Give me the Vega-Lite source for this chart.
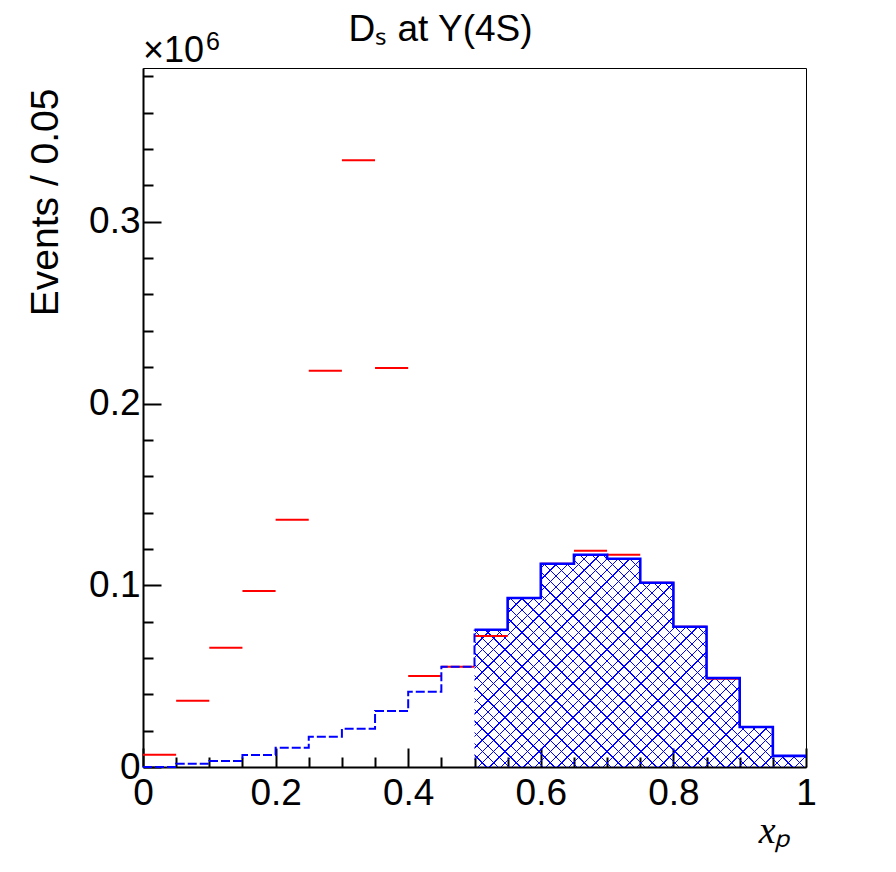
{
  "$schema": "https://vega.github.io/schema/vega-lite/v6.json",
  "autosize": {"type": "none"},
  "width": 663,
  "height": 699,
  "padding": {"left": 143, "top": 68, "right": 90, "bottom": 105},
  "background": "white",
  "config": {
    "view": {"stroke": "black", "strokeWidth": 1},
    "font": "Liberation Sans"
  },
  "title": {
    "text": "Dₛ at Y(4S)",
    "font": "Liberation Sans",
    "fontSize": 37,
    "fontWeight": "normal",
    "color": "black",
    "frame": "group",
    "anchor": "middle",
    "offset": -19,
    "dx": -34
  },
  "datasets": {
    "red": [
      {"lo": 0.00, "hi": 0.05, "n": 0.0068},
      {"lo": 0.05, "hi": 0.10, "n": 0.0365},
      {"lo": 0.10, "hi": 0.15, "n": 0.0656},
      {"lo": 0.15, "hi": 0.20, "n": 0.0968},
      {"lo": 0.20, "hi": 0.25, "n": 0.1361},
      {"lo": 0.25, "hi": 0.30, "n": 0.2180},
      {"lo": 0.30, "hi": 0.35, "n": 0.3339},
      {"lo": 0.35, "hi": 0.40, "n": 0.2195},
      {"lo": 0.40, "hi": 0.45, "n": 0.0501},
      {"lo": 0.45, "hi": 0.50, "n": 0.0552},
      {"lo": 0.50, "hi": 0.55, "n": 0.0721},
      {"lo": 0.55, "hi": 0.60, "n": 0.0930},
      {"lo": 0.60, "hi": 0.65, "n": 0.1118},
      {"lo": 0.65, "hi": 0.70, "n": 0.1190},
      {"lo": 0.70, "hi": 0.75, "n": 0.1168},
      {"lo": 0.75, "hi": 0.80, "n": 0.1014},
      {"lo": 0.80, "hi": 0.85, "n": 0.0772},
      {"lo": 0.85, "hi": 0.90, "n": 0.0486},
      {"lo": 0.90, "hi": 0.95, "n": 0.0220},
      {"lo": 0.95, "hi": 1.00, "n": 0.0061}
    ],
    "blueDash": [
      {"x": 0.00, "n": 0.0},
      {"x": 0.05, "n": 0.0018},
      {"x": 0.10, "n": 0.0033},
      {"x": 0.15, "n": 0.0066},
      {"x": 0.20, "n": 0.0106},
      {"x": 0.25, "n": 0.0166},
      {"x": 0.30, "n": 0.0211},
      {"x": 0.35, "n": 0.0308},
      {"x": 0.40, "n": 0.0414},
      {"x": 0.45, "n": 0.0552},
      {"x": 0.50, "n": 0.0755}
    ],
    "blueSolid": [
      {"x": 0.50, "n": 0.0755},
      {"x": 0.55, "n": 0.0930},
      {"x": 0.60, "n": 0.1118},
      {"x": 0.65, "n": 0.1168},
      {"x": 0.70, "n": 0.1146},
      {"x": 0.75, "n": 0.1014},
      {"x": 0.80, "n": 0.0772},
      {"x": 0.85, "n": 0.0490},
      {"x": 0.90, "n": 0.0220},
      {"x": 0.95, "n": 0.0061},
      {"x": 1.00, "n": 0.0061}
    ],
    "label": [{"t": "×10", "e": "6", "x": 0, "y": 0.3846}]
  },
  "layer": [
    {
      "data": {"name": "blueSolid"},
      "mark": {"type": "area", "interpolate": "step-after", "fill": {"gradient": "linear", "x1": 0, "y1": 0, "x2": 1.1633, "y2": 0.745, "stops": [
        {"offset":0,"color":"rgba(0,0,255,0)"},{"offset":0,"color":"#0000ff"},{"offset":0.0024,"color":"#0000ff"},{"offset":0.0024,"color":"rgba(0,0,255,0)"},
        {"offset":0.0208,"color":"rgba(0,0,255,0)"},{"offset":0.0208,"color":"#0000ff"},{"offset":0.0232,"color":"#0000ff"},{"offset":0.0232,"color":"rgba(0,0,255,0)"},
        {"offset":0.0417,"color":"rgba(0,0,255,0)"},{"offset":0.0417,"color":"#0000ff"},{"offset":0.0441,"color":"#0000ff"},{"offset":0.0441,"color":"rgba(0,0,255,0)"},
        {"offset":0.0625,"color":"rgba(0,0,255,0)"},{"offset":0.0625,"color":"#0000ff"},{"offset":0.0649,"color":"#0000ff"},{"offset":0.0649,"color":"rgba(0,0,255,0)"},
        {"offset":0.0833,"color":"rgba(0,0,255,0)"},{"offset":0.0833,"color":"#0000ff"},{"offset":0.0857,"color":"#0000ff"},{"offset":0.0857,"color":"rgba(0,0,255,0)"},
        {"offset":0.1042,"color":"rgba(0,0,255,0)"},{"offset":0.1042,"color":"#0000ff"},{"offset":0.1066,"color":"#0000ff"},{"offset":0.1066,"color":"rgba(0,0,255,0)"},
        {"offset":0.125,"color":"rgba(0,0,255,0)"},{"offset":0.125,"color":"#0000ff"},{"offset":0.1274,"color":"#0000ff"},{"offset":0.1274,"color":"rgba(0,0,255,0)"},
        {"offset":0.1458,"color":"rgba(0,0,255,0)"},{"offset":0.1458,"color":"#0000ff"},{"offset":0.1482,"color":"#0000ff"},{"offset":0.1482,"color":"rgba(0,0,255,0)"},
        {"offset":0.1667,"color":"rgba(0,0,255,0)"},{"offset":0.1667,"color":"#0000ff"},{"offset":0.1691,"color":"#0000ff"},{"offset":0.1691,"color":"rgba(0,0,255,0)"},
        {"offset":0.1875,"color":"rgba(0,0,255,0)"},{"offset":0.1875,"color":"#0000ff"},{"offset":0.1899,"color":"#0000ff"},{"offset":0.1899,"color":"rgba(0,0,255,0)"},
        {"offset":0.2083,"color":"rgba(0,0,255,0)"},{"offset":0.2083,"color":"#0000ff"},{"offset":0.2107,"color":"#0000ff"},{"offset":0.2107,"color":"rgba(0,0,255,0)"},
        {"offset":0.2292,"color":"rgba(0,0,255,0)"},{"offset":0.2292,"color":"#0000ff"},{"offset":0.2316,"color":"#0000ff"},{"offset":0.2316,"color":"rgba(0,0,255,0)"},
        {"offset":0.25,"color":"rgba(0,0,255,0)"},{"offset":0.25,"color":"#0000ff"},{"offset":0.2524,"color":"#0000ff"},{"offset":0.2524,"color":"rgba(0,0,255,0)"},
        {"offset":0.2708,"color":"rgba(0,0,255,0)"},{"offset":0.2708,"color":"#0000ff"},{"offset":0.2732,"color":"#0000ff"},{"offset":0.2732,"color":"rgba(0,0,255,0)"},
        {"offset":0.2917,"color":"rgba(0,0,255,0)"},{"offset":0.2917,"color":"#0000ff"},{"offset":0.2941,"color":"#0000ff"},{"offset":0.2941,"color":"rgba(0,0,255,0)"},
        {"offset":0.3125,"color":"rgba(0,0,255,0)"},{"offset":0.3125,"color":"#0000ff"},{"offset":0.3149,"color":"#0000ff"},{"offset":0.3149,"color":"rgba(0,0,255,0)"},
        {"offset":0.3333,"color":"rgba(0,0,255,0)"},{"offset":0.3333,"color":"#0000ff"},{"offset":0.3357,"color":"#0000ff"},{"offset":0.3357,"color":"rgba(0,0,255,0)"},
        {"offset":0.3542,"color":"rgba(0,0,255,0)"},{"offset":0.3542,"color":"#0000ff"},{"offset":0.3566,"color":"#0000ff"},{"offset":0.3566,"color":"rgba(0,0,255,0)"},
        {"offset":0.375,"color":"rgba(0,0,255,0)"},{"offset":0.375,"color":"#0000ff"},{"offset":0.3774,"color":"#0000ff"},{"offset":0.3774,"color":"rgba(0,0,255,0)"},
        {"offset":0.3958,"color":"rgba(0,0,255,0)"},{"offset":0.3958,"color":"#0000ff"},{"offset":0.3982,"color":"#0000ff"},{"offset":0.3982,"color":"rgba(0,0,255,0)"},
        {"offset":0.4167,"color":"rgba(0,0,255,0)"},{"offset":0.4167,"color":"#0000ff"},{"offset":0.4191,"color":"#0000ff"},{"offset":0.4191,"color":"rgba(0,0,255,0)"},
        {"offset":0.4375,"color":"rgba(0,0,255,0)"},{"offset":0.4375,"color":"#0000ff"},{"offset":0.4399,"color":"#0000ff"},{"offset":0.4399,"color":"rgba(0,0,255,0)"},
        {"offset":0.4583,"color":"rgba(0,0,255,0)"},{"offset":0.4583,"color":"#0000ff"},{"offset":0.4607,"color":"#0000ff"},{"offset":0.4607,"color":"rgba(0,0,255,0)"},
        {"offset":0.4792,"color":"rgba(0,0,255,0)"},{"offset":0.4792,"color":"#0000ff"},{"offset":0.4816,"color":"#0000ff"},{"offset":0.4816,"color":"rgba(0,0,255,0)"},
        {"offset":0.5,"color":"rgba(0,0,255,0)"},{"offset":0.5,"color":"#0000ff"},{"offset":0.5024,"color":"#0000ff"},{"offset":0.5024,"color":"rgba(0,0,255,0)"},
        {"offset":0.5208,"color":"rgba(0,0,255,0)"},{"offset":0.5208,"color":"#0000ff"},{"offset":0.5232,"color":"#0000ff"},{"offset":0.5232,"color":"rgba(0,0,255,0)"},
        {"offset":0.5417,"color":"rgba(0,0,255,0)"},{"offset":0.5417,"color":"#0000ff"},{"offset":0.5441,"color":"#0000ff"},{"offset":0.5441,"color":"rgba(0,0,255,0)"},
        {"offset":0.5625,"color":"rgba(0,0,255,0)"},{"offset":0.5625,"color":"#0000ff"},{"offset":0.5649,"color":"#0000ff"},{"offset":0.5649,"color":"rgba(0,0,255,0)"},
        {"offset":0.5833,"color":"rgba(0,0,255,0)"},{"offset":0.5833,"color":"#0000ff"},{"offset":0.5857,"color":"#0000ff"},{"offset":0.5857,"color":"rgba(0,0,255,0)"},
        {"offset":0.6042,"color":"rgba(0,0,255,0)"},{"offset":0.6042,"color":"#0000ff"},{"offset":0.6066,"color":"#0000ff"},{"offset":0.6066,"color":"rgba(0,0,255,0)"},
        {"offset":0.625,"color":"rgba(0,0,255,0)"},{"offset":0.625,"color":"#0000ff"},{"offset":0.6274,"color":"#0000ff"},{"offset":0.6274,"color":"rgba(0,0,255,0)"},
        {"offset":0.6458,"color":"rgba(0,0,255,0)"},{"offset":0.6458,"color":"#0000ff"},{"offset":0.6482,"color":"#0000ff"},{"offset":0.6482,"color":"rgba(0,0,255,0)"},
        {"offset":0.6667,"color":"rgba(0,0,255,0)"},{"offset":0.6667,"color":"#0000ff"},{"offset":0.6691,"color":"#0000ff"},{"offset":0.6691,"color":"rgba(0,0,255,0)"},
        {"offset":0.6875,"color":"rgba(0,0,255,0)"},{"offset":0.6875,"color":"#0000ff"},{"offset":0.6899,"color":"#0000ff"},{"offset":0.6899,"color":"rgba(0,0,255,0)"},
        {"offset":0.7083,"color":"rgba(0,0,255,0)"},{"offset":0.7083,"color":"#0000ff"},{"offset":0.7107,"color":"#0000ff"},{"offset":0.7107,"color":"rgba(0,0,255,0)"},
        {"offset":0.7292,"color":"rgba(0,0,255,0)"},{"offset":0.7292,"color":"#0000ff"},{"offset":0.7316,"color":"#0000ff"},{"offset":0.7316,"color":"rgba(0,0,255,0)"},
        {"offset":0.75,"color":"rgba(0,0,255,0)"},{"offset":0.75,"color":"#0000ff"},{"offset":0.7524,"color":"#0000ff"},{"offset":0.7524,"color":"rgba(0,0,255,0)"},
        {"offset":0.7708,"color":"rgba(0,0,255,0)"},{"offset":0.7708,"color":"#0000ff"},{"offset":0.7732,"color":"#0000ff"},{"offset":0.7732,"color":"rgba(0,0,255,0)"},
        {"offset":0.7917,"color":"rgba(0,0,255,0)"},{"offset":0.7917,"color":"#0000ff"},{"offset":0.7941,"color":"#0000ff"},{"offset":0.7941,"color":"rgba(0,0,255,0)"},
        {"offset":0.8125,"color":"rgba(0,0,255,0)"},{"offset":0.8125,"color":"#0000ff"},{"offset":0.8149,"color":"#0000ff"},{"offset":0.8149,"color":"rgba(0,0,255,0)"},
        {"offset":0.8333,"color":"rgba(0,0,255,0)"},{"offset":0.8333,"color":"#0000ff"},{"offset":0.8357,"color":"#0000ff"},{"offset":0.8357,"color":"rgba(0,0,255,0)"},
        {"offset":0.8542,"color":"rgba(0,0,255,0)"},{"offset":0.8542,"color":"#0000ff"},{"offset":0.8566,"color":"#0000ff"},{"offset":0.8566,"color":"rgba(0,0,255,0)"},
        {"offset":0.875,"color":"rgba(0,0,255,0)"},{"offset":0.875,"color":"#0000ff"},{"offset":0.8774,"color":"#0000ff"},{"offset":0.8774,"color":"rgba(0,0,255,0)"},
        {"offset":0.8958,"color":"rgba(0,0,255,0)"},{"offset":0.8958,"color":"#0000ff"},{"offset":0.8982,"color":"#0000ff"},{"offset":0.8982,"color":"rgba(0,0,255,0)"},
        {"offset":0.9167,"color":"rgba(0,0,255,0)"},{"offset":0.9167,"color":"#0000ff"},{"offset":0.9191,"color":"#0000ff"},{"offset":0.9191,"color":"rgba(0,0,255,0)"},
        {"offset":0.9375,"color":"rgba(0,0,255,0)"},{"offset":0.9375,"color":"#0000ff"},{"offset":0.9399,"color":"#0000ff"},{"offset":0.9399,"color":"rgba(0,0,255,0)"},
        {"offset":0.9583,"color":"rgba(0,0,255,0)"},{"offset":0.9583,"color":"#0000ff"},{"offset":0.9607,"color":"#0000ff"},{"offset":0.9607,"color":"rgba(0,0,255,0)"},
        {"offset":0.9792,"color":"rgba(0,0,255,0)"},{"offset":0.9792,"color":"#0000ff"},{"offset":0.9816,"color":"#0000ff"},{"offset":0.9816,"color":"rgba(0,0,255,0)"},
        {"offset":1,"color":"rgba(0,0,255,0)"}
      ]}},
      "encoding": {
        "x": {
          "field": "x", "type": "quantitative",
          "scale": {"domain": [0, 1], "nice": false, "zero": false},
          "axis": {
            "values": [0,0.05,0.1,0.15,0.2,0.25,0.3,0.35,0.4,0.45,0.5,0.55,0.6,0.65,0.7,0.75,0.8,0.85,0.9,0.95,1],
            "tickCount": 100,
            "tickSize": {"condition": {"test": "abs(datum.value*5 - round(datum.value*5)) < 0.000001", "value": -19}, "value": -10},
            "tickColor": "black",
            "tickWidth": 2,
            "domainColor": "black",
            "domainWidth": 2,
            "grid": false,
            "labelExpr": "abs(datum.value*5 - round(datum.value*5)) < 0.000001 ? format(datum.value, '.1~f') : ''",
            "labelFont": "Liberation Sans",
            "labelFontSize": 37,
            "labelColor": "black",
            "labelPadding": 27,
            "labelFlush": false,
            "labelOverlap": false,
            "labelBound": false,
            "title": "xₚ",
            "titleFont": "Liberation Serif",
            "titleFontStyle": "italic",
            "titleFontWeight": "normal",
            "titleFontSize": 38,
            "titleColor": "black",
            "titleAlign": "right",
            "titleBaseline": "alphabetic",
            "titleX": 647,
            "titleY": 75
          }
        },
        "y": {
          "field": "n", "type": "quantitative",
          "scale": {"domain": [0, 0.3846], "nice": false, "zero": false},
          "axis": {
            "values": [0,0.02,0.04,0.06,0.08,0.1,0.12,0.14,0.16,0.18,0.2,0.22,0.24,0.26,0.28,0.3,0.32,0.34,0.36,0.38],
            "tickCount": 100,
            "tickSize": {"condition": {"test": "abs(datum.value*10 - round(datum.value*10)) < 0.000001", "value": -18}, "value": -10},
            "tickColor": "black",
            "tickWidth": 2,
            "domainColor": "black",
            "domainWidth": 2,
            "grid": false,
            "labelExpr": "abs(datum.value*10 - round(datum.value*10)) < 0.000001 ? format(datum.value, '.1~f') : ''",
            "labelFont": "Liberation Sans",
            "labelFontSize": 37,
            "labelColor": "black",
            "labelPadding": 21,
            "labelFlush": false,
            "labelOverlap": false,
            "labelBound": false,
            "title": "Events / 0.05",
            "titleFont": "Liberation Sans",
            "titleFontWeight": "normal",
            "titleFontSize": 39,
            "titleColor": "black",
            "titleAngle": -90,
            "titleAlign": "right",
            "titleBaseline": "alphabetic",
            "titleX": -86,
            "titleY": 20
          }
        }
      }
    },
    {
      "data": {"name": "blueSolid"},
      "mark": {"type": "area", "interpolate": "step-after", "fill": {"gradient": "linear", "x1": 0, "y1": 1, "x2": 1.1633, "y2": 0.255, "stops": [
        {"offset":0,"color":"rgba(0,0,255,0)"},{"offset":0,"color":"#0000ff"},{"offset":0.0024,"color":"#0000ff"},{"offset":0.0024,"color":"rgba(0,0,255,0)"},
        {"offset":0.0208,"color":"rgba(0,0,255,0)"},{"offset":0.0208,"color":"#0000ff"},{"offset":0.0232,"color":"#0000ff"},{"offset":0.0232,"color":"rgba(0,0,255,0)"},
        {"offset":0.0417,"color":"rgba(0,0,255,0)"},{"offset":0.0417,"color":"#0000ff"},{"offset":0.0441,"color":"#0000ff"},{"offset":0.0441,"color":"rgba(0,0,255,0)"},
        {"offset":0.0625,"color":"rgba(0,0,255,0)"},{"offset":0.0625,"color":"#0000ff"},{"offset":0.0649,"color":"#0000ff"},{"offset":0.0649,"color":"rgba(0,0,255,0)"},
        {"offset":0.0833,"color":"rgba(0,0,255,0)"},{"offset":0.0833,"color":"#0000ff"},{"offset":0.0857,"color":"#0000ff"},{"offset":0.0857,"color":"rgba(0,0,255,0)"},
        {"offset":0.1042,"color":"rgba(0,0,255,0)"},{"offset":0.1042,"color":"#0000ff"},{"offset":0.1066,"color":"#0000ff"},{"offset":0.1066,"color":"rgba(0,0,255,0)"},
        {"offset":0.125,"color":"rgba(0,0,255,0)"},{"offset":0.125,"color":"#0000ff"},{"offset":0.1274,"color":"#0000ff"},{"offset":0.1274,"color":"rgba(0,0,255,0)"},
        {"offset":0.1458,"color":"rgba(0,0,255,0)"},{"offset":0.1458,"color":"#0000ff"},{"offset":0.1482,"color":"#0000ff"},{"offset":0.1482,"color":"rgba(0,0,255,0)"},
        {"offset":0.1667,"color":"rgba(0,0,255,0)"},{"offset":0.1667,"color":"#0000ff"},{"offset":0.1691,"color":"#0000ff"},{"offset":0.1691,"color":"rgba(0,0,255,0)"},
        {"offset":0.1875,"color":"rgba(0,0,255,0)"},{"offset":0.1875,"color":"#0000ff"},{"offset":0.1899,"color":"#0000ff"},{"offset":0.1899,"color":"rgba(0,0,255,0)"},
        {"offset":0.2083,"color":"rgba(0,0,255,0)"},{"offset":0.2083,"color":"#0000ff"},{"offset":0.2107,"color":"#0000ff"},{"offset":0.2107,"color":"rgba(0,0,255,0)"},
        {"offset":0.2292,"color":"rgba(0,0,255,0)"},{"offset":0.2292,"color":"#0000ff"},{"offset":0.2316,"color":"#0000ff"},{"offset":0.2316,"color":"rgba(0,0,255,0)"},
        {"offset":0.25,"color":"rgba(0,0,255,0)"},{"offset":0.25,"color":"#0000ff"},{"offset":0.2524,"color":"#0000ff"},{"offset":0.2524,"color":"rgba(0,0,255,0)"},
        {"offset":0.2708,"color":"rgba(0,0,255,0)"},{"offset":0.2708,"color":"#0000ff"},{"offset":0.2732,"color":"#0000ff"},{"offset":0.2732,"color":"rgba(0,0,255,0)"},
        {"offset":0.2917,"color":"rgba(0,0,255,0)"},{"offset":0.2917,"color":"#0000ff"},{"offset":0.2941,"color":"#0000ff"},{"offset":0.2941,"color":"rgba(0,0,255,0)"},
        {"offset":0.3125,"color":"rgba(0,0,255,0)"},{"offset":0.3125,"color":"#0000ff"},{"offset":0.3149,"color":"#0000ff"},{"offset":0.3149,"color":"rgba(0,0,255,0)"},
        {"offset":0.3333,"color":"rgba(0,0,255,0)"},{"offset":0.3333,"color":"#0000ff"},{"offset":0.3357,"color":"#0000ff"},{"offset":0.3357,"color":"rgba(0,0,255,0)"},
        {"offset":0.3542,"color":"rgba(0,0,255,0)"},{"offset":0.3542,"color":"#0000ff"},{"offset":0.3566,"color":"#0000ff"},{"offset":0.3566,"color":"rgba(0,0,255,0)"},
        {"offset":0.375,"color":"rgba(0,0,255,0)"},{"offset":0.375,"color":"#0000ff"},{"offset":0.3774,"color":"#0000ff"},{"offset":0.3774,"color":"rgba(0,0,255,0)"},
        {"offset":0.3958,"color":"rgba(0,0,255,0)"},{"offset":0.3958,"color":"#0000ff"},{"offset":0.3982,"color":"#0000ff"},{"offset":0.3982,"color":"rgba(0,0,255,0)"},
        {"offset":0.4167,"color":"rgba(0,0,255,0)"},{"offset":0.4167,"color":"#0000ff"},{"offset":0.4191,"color":"#0000ff"},{"offset":0.4191,"color":"rgba(0,0,255,0)"},
        {"offset":0.4375,"color":"rgba(0,0,255,0)"},{"offset":0.4375,"color":"#0000ff"},{"offset":0.4399,"color":"#0000ff"},{"offset":0.4399,"color":"rgba(0,0,255,0)"},
        {"offset":0.4583,"color":"rgba(0,0,255,0)"},{"offset":0.4583,"color":"#0000ff"},{"offset":0.4607,"color":"#0000ff"},{"offset":0.4607,"color":"rgba(0,0,255,0)"},
        {"offset":0.4792,"color":"rgba(0,0,255,0)"},{"offset":0.4792,"color":"#0000ff"},{"offset":0.4816,"color":"#0000ff"},{"offset":0.4816,"color":"rgba(0,0,255,0)"},
        {"offset":0.5,"color":"rgba(0,0,255,0)"},{"offset":0.5,"color":"#0000ff"},{"offset":0.5024,"color":"#0000ff"},{"offset":0.5024,"color":"rgba(0,0,255,0)"},
        {"offset":0.5208,"color":"rgba(0,0,255,0)"},{"offset":0.5208,"color":"#0000ff"},{"offset":0.5232,"color":"#0000ff"},{"offset":0.5232,"color":"rgba(0,0,255,0)"},
        {"offset":0.5417,"color":"rgba(0,0,255,0)"},{"offset":0.5417,"color":"#0000ff"},{"offset":0.5441,"color":"#0000ff"},{"offset":0.5441,"color":"rgba(0,0,255,0)"},
        {"offset":0.5625,"color":"rgba(0,0,255,0)"},{"offset":0.5625,"color":"#0000ff"},{"offset":0.5649,"color":"#0000ff"},{"offset":0.5649,"color":"rgba(0,0,255,0)"},
        {"offset":0.5833,"color":"rgba(0,0,255,0)"},{"offset":0.5833,"color":"#0000ff"},{"offset":0.5857,"color":"#0000ff"},{"offset":0.5857,"color":"rgba(0,0,255,0)"},
        {"offset":0.6042,"color":"rgba(0,0,255,0)"},{"offset":0.6042,"color":"#0000ff"},{"offset":0.6066,"color":"#0000ff"},{"offset":0.6066,"color":"rgba(0,0,255,0)"},
        {"offset":0.625,"color":"rgba(0,0,255,0)"},{"offset":0.625,"color":"#0000ff"},{"offset":0.6274,"color":"#0000ff"},{"offset":0.6274,"color":"rgba(0,0,255,0)"},
        {"offset":0.6458,"color":"rgba(0,0,255,0)"},{"offset":0.6458,"color":"#0000ff"},{"offset":0.6482,"color":"#0000ff"},{"offset":0.6482,"color":"rgba(0,0,255,0)"},
        {"offset":0.6667,"color":"rgba(0,0,255,0)"},{"offset":0.6667,"color":"#0000ff"},{"offset":0.6691,"color":"#0000ff"},{"offset":0.6691,"color":"rgba(0,0,255,0)"},
        {"offset":0.6875,"color":"rgba(0,0,255,0)"},{"offset":0.6875,"color":"#0000ff"},{"offset":0.6899,"color":"#0000ff"},{"offset":0.6899,"color":"rgba(0,0,255,0)"},
        {"offset":0.7083,"color":"rgba(0,0,255,0)"},{"offset":0.7083,"color":"#0000ff"},{"offset":0.7107,"color":"#0000ff"},{"offset":0.7107,"color":"rgba(0,0,255,0)"},
        {"offset":0.7292,"color":"rgba(0,0,255,0)"},{"offset":0.7292,"color":"#0000ff"},{"offset":0.7316,"color":"#0000ff"},{"offset":0.7316,"color":"rgba(0,0,255,0)"},
        {"offset":0.75,"color":"rgba(0,0,255,0)"},{"offset":0.75,"color":"#0000ff"},{"offset":0.7524,"color":"#0000ff"},{"offset":0.7524,"color":"rgba(0,0,255,0)"},
        {"offset":0.7708,"color":"rgba(0,0,255,0)"},{"offset":0.7708,"color":"#0000ff"},{"offset":0.7732,"color":"#0000ff"},{"offset":0.7732,"color":"rgba(0,0,255,0)"},
        {"offset":0.7917,"color":"rgba(0,0,255,0)"},{"offset":0.7917,"color":"#0000ff"},{"offset":0.7941,"color":"#0000ff"},{"offset":0.7941,"color":"rgba(0,0,255,0)"},
        {"offset":0.8125,"color":"rgba(0,0,255,0)"},{"offset":0.8125,"color":"#0000ff"},{"offset":0.8149,"color":"#0000ff"},{"offset":0.8149,"color":"rgba(0,0,255,0)"},
        {"offset":0.8333,"color":"rgba(0,0,255,0)"},{"offset":0.8333,"color":"#0000ff"},{"offset":0.8357,"color":"#0000ff"},{"offset":0.8357,"color":"rgba(0,0,255,0)"},
        {"offset":0.8542,"color":"rgba(0,0,255,0)"},{"offset":0.8542,"color":"#0000ff"},{"offset":0.8566,"color":"#0000ff"},{"offset":0.8566,"color":"rgba(0,0,255,0)"},
        {"offset":0.875,"color":"rgba(0,0,255,0)"},{"offset":0.875,"color":"#0000ff"},{"offset":0.8774,"color":"#0000ff"},{"offset":0.8774,"color":"rgba(0,0,255,0)"},
        {"offset":0.8958,"color":"rgba(0,0,255,0)"},{"offset":0.8958,"color":"#0000ff"},{"offset":0.8982,"color":"#0000ff"},{"offset":0.8982,"color":"rgba(0,0,255,0)"},
        {"offset":0.9167,"color":"rgba(0,0,255,0)"},{"offset":0.9167,"color":"#0000ff"},{"offset":0.9191,"color":"#0000ff"},{"offset":0.9191,"color":"rgba(0,0,255,0)"},
        {"offset":0.9375,"color":"rgba(0,0,255,0)"},{"offset":0.9375,"color":"#0000ff"},{"offset":0.9399,"color":"#0000ff"},{"offset":0.9399,"color":"rgba(0,0,255,0)"},
        {"offset":0.9583,"color":"rgba(0,0,255,0)"},{"offset":0.9583,"color":"#0000ff"},{"offset":0.9607,"color":"#0000ff"},{"offset":0.9607,"color":"rgba(0,0,255,0)"},
        {"offset":0.9792,"color":"rgba(0,0,255,0)"},{"offset":0.9792,"color":"#0000ff"},{"offset":0.9816,"color":"#0000ff"},{"offset":0.9816,"color":"rgba(0,0,255,0)"},
        {"offset":1,"color":"rgba(0,0,255,0)"}
      ]}},
      "encoding": {
        "x": {"field": "x", "type": "quantitative"},
        "y": {"field": "n", "type": "quantitative"}
      }
    },
    {
      "data": {"name": "red"},
      "mark": {"type": "rule", "color": "#ff0000", "strokeWidth": 2},
      "encoding": {
        "x": {"field": "lo", "type": "quantitative"},
        "x2": {"field": "hi"},
        "y": {"field": "n", "type": "quantitative"}
      }
    },
    {
      "data": {"name": "blueDash"},
      "mark": {"type": "line", "interpolate": "step-after", "color": "#0000ff", "strokeWidth": 2, "strokeDash": [9, 3]},
      "encoding": {
        "x": {"field": "x", "type": "quantitative"},
        "y": {"field": "n", "type": "quantitative"}
      }
    },
    {
      "data": {"name": "blueSolid"},
      "mark": {"type": "line", "interpolate": "step-after", "color": "#0000ff", "strokeWidth": 2.6},
      "encoding": {
        "x": {"field": "x", "type": "quantitative"},
        "y": {"field": "n", "type": "quantitative"}
      }
    },
    {
      "data": {"name": "label"},
      "mark": {"type": "text", "align": "left", "baseline": "alphabetic", "dy": -6, "fontSize": 36, "font": "Liberation Sans", "color": "black"},
      "encoding": {
        "x": {"field": "x", "type": "quantitative"},
        "y": {"field": "y", "type": "quantitative"},
        "text": {"field": "t"}
      }
    },
    {
      "data": {"name": "label"},
      "mark": {"type": "text", "align": "left", "baseline": "alphabetic", "dx": 63, "dy": -18, "fontSize": 25, "font": "Liberation Sans", "color": "black"},
      "encoding": {
        "x": {"field": "x", "type": "quantitative"},
        "y": {"field": "y", "type": "quantitative"},
        "text": {"field": "e"}
      }
    }
  ]
}
